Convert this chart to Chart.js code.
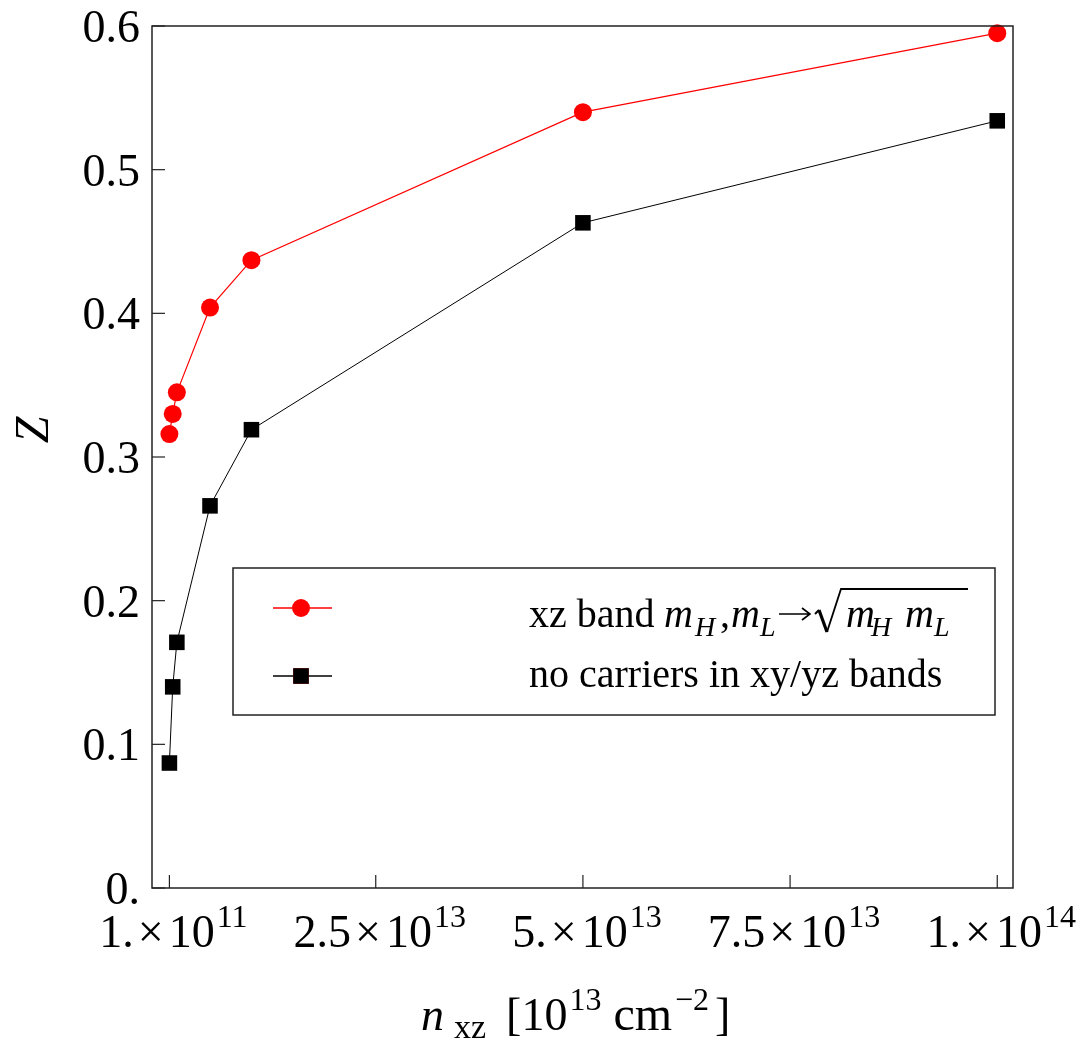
<!DOCTYPE html>
<html>
<head>
<meta charset="utf-8">
<script src="https://cdn.jsdelivr.net/npm/chart.js@4.4.0/dist/chart.umd.min.js"></script>
<style>
  body { margin: 0; background: #fff; }
  #wrap { width: 1086px; height: 1042px; position: relative; }
</style>
</head>
<body>
<div id="wrap"><canvas id="myChart"></canvas></div>
<script>
// data
const density = [1e11, 5e11, 1e12, 5e12, 1e13, 5e13, 1e14];
const zMassAvg = [0.316, 0.330, 0.345, 0.404, 0.437, 0.540, 0.595];
const zNoCarriers = [0.087, 0.140, 0.171, 0.266, 0.319, 0.463, 0.534];

const xTicks = [1e11, 2.5e13, 5e13, 7.5e13, 1e14];
const xTickMantissa = ["1.", "2.5", "5.", "7.5", "1."];
const xTickExponent = ["11", "13", "13", "13", "14"];
const yTicks = [0, 0.1, 0.2, 0.3, 0.4, 0.5, 0.6];
const yTickLabels = ["0.", "0.1", "0.2", "0.3", "0.4", "0.5", "0.6"];
const seriesNames = ["xz band mH,mL\u2192\u221A(mH mL)", "no carriers in xy/yz bands"];

const serif = '"Liberation Serif", "Times New Roman", serif';
function font(size, italic) {
  return (italic ? "italic " : "") + size + "px " + serif;
}

// draw a row of text pieces (for sub/superscripts)
function drawRuns(ctx, x, y, runs) {
  for (const r of runs) {
    ctx.font = r.font;
    if (r.x !== undefined) x = r.x;
    ctx.fillText(r.t, x, y + (r.dy || 0));
    x += ctx.measureText(r.t).width + (r.gap || 0);
  }
  return x;
}
function runsWidth(ctx, runs) {
  let w = 0;
  for (const r of runs) {
    ctx.font = r.font;
    w += ctx.measureText(r.t).width + (r.gap || 0);
  }
  return w;
}

const framePlugin = {
  id: "frame",
  afterDraw(chart) {
    const ctx = chart.ctx;
    const area = chart.chartArea;
    const xs = chart.scales.x;
    const ys = chart.scales.y;
    ctx.save();
    ctx.strokeStyle = "#222";
    ctx.fillStyle = "#000";
    ctx.lineWidth = 1.5;
    ctx.strokeRect(area.left, area.top, area.right - area.left, area.bottom - area.top);

    // y ticks and labels
    ctx.lineWidth = 1.2;
    ctx.textAlign = "right";
    ctx.textBaseline = "alphabetic";
    ctx.font = font(46);
    yTicks.forEach((v, i) => {
      const py = ys.getPixelForValue(v);
      ctx.beginPath();
      ctx.moveTo(area.left, py);
      ctx.lineTo(area.left + 13, py);
      ctx.stroke();
      ctx.fillText(yTickLabels[i], area.left - 12, py + 16);
    });

    // x ticks and labels
    ctx.textAlign = "left";
    xTicks.forEach((v, i) => {
      const px = xs.getPixelForValue(v);
      ctx.beginPath();
      ctx.moveTo(px, area.bottom);
      ctx.lineTo(px, area.bottom - 13);
      ctx.stroke();
      const runs = [
        { t: xTickMantissa[i], font: font(46), gap: 4 },
        { t: "\u00D7", font: font(46), gap: 5 },
        { t: "10", font: font(46), gap: 2 },
        { t: xTickExponent[i], font: font(32), dy: -20 }
      ];
      const w = runsWidth(ctx, runs);
      drawRuns(ctx, px - w / 2 + 4, 947, runs);
    });

    // axis titles
    drawRuns(ctx, 421, 1030, [
      { t: "n", font: font(46, true), gap: 10 },
      { t: "xz", font: font(34), dy: 8, gap: 20 },
      { t: "[10", font: font(46), gap: 2 },
      { t: "13", font: font(32), dy: -20, gap: 12 },
      { t: "cm", font: font(48), gap: 3 },
      { t: "\u22122", font: font(32), dy: -20, gap: 6 },
      { t: "]", font: font(46) }
    ]);
    ctx.save();
    ctx.translate(48, 430);
    ctx.rotate(-Math.PI / 2);
    ctx.textAlign = "center";
    ctx.font = font(48, true);
    ctx.fillText("Z", 0, 0);
    ctx.restore();

    // legend box
    const lx = 233, ly = 568, lw = 762, lh = 147;
    ctx.fillStyle = "#fff";
    ctx.fillRect(lx, ly, lw, lh);
    ctx.strokeStyle = "#222";
    ctx.lineWidth = 1.5;
    ctx.strokeRect(lx, ly, lw, lh);

    const ds = chart.data.datasets;
    const rows = [608, 676];
    rows.forEach((ry, i) => {
      ctx.strokeStyle = ds[i].borderColor;
      ctx.lineWidth = 1.5;
      ctx.beginPath();
      ctx.moveTo(273, ry);
      ctx.lineTo(332, ry);
      ctx.stroke();
      Chart.helpers.drawPoint(ctx, {
        pointStyle: ds[i].pointStyle,
        radius: ds[i].pointRadius,
        borderWidth: 0
      }, 301, ry);
      ctx.fillStyle = ds[i].pointBackgroundColor;
      ctx.fill();
    });

    ctx.fillStyle = "#000";
    ctx.textAlign = "left";
    drawRuns(ctx, 529, 627, [
      { t: "xz band", font: font(40) },
      { t: "m", font: font(40, true), x: 664 },
      { t: "H", font: font(28, true), dy: 9, x: 695 },
      { t: ",", font: font(40), x: 720 },
      { t: "m", font: font(40, true), x: 731 },
      { t: "L", font: font(28, true), dy: 9, x: 760 }
    ]);
    // arrow
    ctx.strokeStyle = "#000";
    ctx.lineWidth = 1.6;
    ctx.beginPath();
    ctx.moveTo(779, 614);
    ctx.lineTo(810, 614);
    ctx.moveTo(802, 608);
    ctx.lineTo(810, 614);
    ctx.lineTo(802, 620);
    ctx.stroke();
    // radical sign
    const rx = 815;
    ctx.lineWidth = 2;
    ctx.beginPath();
    ctx.moveTo(rx, 614);
    ctx.lineTo(rx + 4, 610);
    ctx.stroke();
    ctx.lineWidth = 3.2;
    ctx.beginPath();
    ctx.moveTo(rx + 4, 610);
    ctx.lineTo(rx + 12, 632);
    ctx.stroke();
    ctx.lineWidth = 1.8;
    ctx.beginPath();
    ctx.moveTo(rx + 12, 632);
    ctx.lineTo(rx + 26, 589);
    ctx.lineTo(968, 589);
    ctx.stroke();
    drawRuns(ctx, 846, 627, [
      { t: "m", font: font(40, true) },
      { t: "H", font: font(28, true), dy: 9, x: 871 },
      { t: "m", font: font(40, true), x: 905 },
      { t: "L", font: font(28, true), dy: 9, x: 934 }
    ]);
    ctx.font = font(40);
    ctx.fillText(seriesNames[1], 529, 687);
    ctx.restore();
  }
};

const ctx = document.getElementById("myChart").getContext("2d");
const myChart = new Chart(ctx, {
  type: "line",
  data: {
    datasets: [
      {
        label: seriesNames[0],
        data: density.map((x, i) => ({ x: x, y: zMassAvg[i] })),
        borderColor: "#ff0000",
        borderWidth: 1.2,
        pointStyle: "circle",
        pointRadius: 9,
        pointBackgroundColor: "#ff0000",
        pointBorderWidth: 0,
        tension: 0,
        clip: false
      },
      {
        label: seriesNames[1],
        data: density.map((x, i) => ({ x: x, y: zNoCarriers[i] })),
        borderColor: "#000000",
        borderWidth: 1,
        pointStyle: "rect",
        pointRadius: 11,
        pointBackgroundColor: "#000000",
        pointBorderWidth: 0,
        tension: 0,
        clip: false
      }
    ]
  },
  options: {
    responsive: true,
    maintainAspectRatio: false,
    animation: false,
    events: [],
    layout: { padding: { left: 152, top: 26, right: 73, bottom: 154 } },
    scales: {
      x: { type: "linear", min: -2e12, max: 1.019e14, display: false },
      y: { type: "linear", min: 0, max: 0.6, display: false }
    },
    plugins: {
      legend: { display: false },
      tooltip: { enabled: false }
    }
  },
  plugins: [framePlugin]
});
</script>
</body>
</html>
